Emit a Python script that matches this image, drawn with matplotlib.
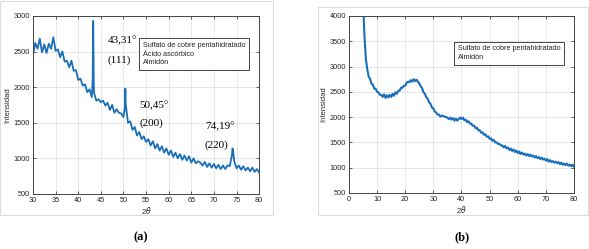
import numpy as np
import matplotlib
matplotlib.use("Agg")
from matplotlib import pyplot as plt
from matplotlib.patches import Rectangle

# Panel (a): Sulfato de cobre + acido ascorbico + almidon, 2theta 30..80 every 0.5 deg
xa_start, xa_stop, xa_step = 30.0, 80.0, 0.5
ya = [2450, 2620, 2540, 2680, 2490, 2600, 2480, 2610, 2540, 2700,
      2510, 2530, 2420, 2500, 2360, 2370, 2280, 2370, 2230, 2240,
      2100, 2120, 2020, 2040, 1930, 1970, 1860, 1920, 1810, 1830,
      1790, 1810, 1740, 1780, 1680, 1750, 1640, 1690, 1640, 1630,
      1580, 1760, 1500, 1520, 1400, 1440, 1320, 1370, 1270, 1310,
      1230, 1270, 1180, 1240, 1140, 1200, 1110, 1170, 1080, 1140,
      1050, 1110, 1020, 1080, 1000, 1060, 980, 1040, 970, 1030,
      940, 1000, 930, 960, 940, 900, 950, 880, 930, 870,
      920, 860, 910, 850, 900, 850, 900, 890, 1050, 960,
      860, 900, 840, 890, 830, 870, 820, 870, 810, 850, 800]
# sharp reflections
peak_xa = [43.2, 43.31, 43.45, 50.3, 50.42, 74.1, 74.2]
peak_ya = [2100, 2930, 2000, 1700, 1980, 1140, 1120]

# Panel (b): Sulfato de cobre + almidon, 2theta 5..80 every 0.5 deg
xb_start, xb_stop, xb_step = 5.0, 80.0, 0.5
yb = [4300, 3600, 3150, 2950, 2800, 2760, 2660, 2640, 2560, 2560,
      2500, 2490, 2440, 2440, 2400, 2450, 2380, 2430, 2390, 2440,
      2400, 2460, 2420, 2490, 2460, 2520, 2520, 2580, 2580, 2620,
      2620, 2680, 2700, 2690, 2730, 2700, 2750, 2710, 2740, 2700,
      2670, 2610, 2570, 2490, 2460, 2390, 2360, 2290, 2260, 2190,
      2170, 2110, 2090, 2050, 2050, 2010, 2030, 2020, 2010, 2000,
      1990, 1960, 1990, 1950, 1980, 1930, 1970, 1930, 1960, 1990,
      1960, 1990, 1940, 1950, 1900, 1920, 1870, 1870, 1830, 1830,
      1780, 1790, 1740, 1740, 1690, 1700, 1650, 1660, 1610, 1620,
      1570, 1580, 1530, 1550, 1500, 1500, 1470, 1470, 1440, 1440,
      1400, 1430, 1380, 1400, 1350, 1380, 1330, 1360, 1310, 1340,
      1290, 1320, 1270, 1300, 1260, 1280, 1240, 1270, 1230, 1260,
      1220, 1240, 1200, 1230, 1190, 1210, 1170, 1200, 1160, 1180,
      1140, 1170, 1120, 1150, 1110, 1130, 1100, 1120, 1090, 1110,
      1070, 1100, 1060, 1080, 1050, 1080, 1040, 1060, 1030, 1060, 1020]

legend_a = "Sulfato de cobre pentahidratado\nÁcido ascórbico\nAlmidón"
legend_b = "Sulfato de cobre pentahidratado\nAlmidón"
peak_labels = [("43,31°", "(111)", 46.5, 2650, 2380),
               ("50,45°", "(200)", 53.6, 1735, 1490),
               ("74,19°", "(220)", 68.0, 1445, 1190)]

line_col = "#1a6fba"
txt_col = "#262626"

def merge(x0, x1, step, y, px, py):
    x = np.arange(x0, x1 + step / 2, step)
    xs = np.concatenate([x, px])
    ys = np.concatenate([np.array(y, float), np.array(py, float)])
    order = np.argsort(xs, kind="stable")
    return xs[order], ys[order]

def style_axes(ax, xlim, xticks, ylim, yticks):
    ax.set_xlim(xlim)
    ax.set_ylim(ylim)
    ax.set_xticks(xticks)
    ax.set_yticks(yticks)
    ax.grid(True, color="#e3e3e3", linewidth=0.6)
    ax.set_axisbelow(True)
    for s in ax.spines.values():
        s.set_color("#444444")
        s.set_linewidth(0.7)
    ax.tick_params(direction="in", length=2, width=0.5, colors=txt_col,
                   labelsize=5.3, top=True, right=True, pad=2)
    ax.set_xlabel("2$\\theta$", fontsize=5.5, color=txt_col, labelpad=1)
    ax.set_ylabel("Intensidad", fontsize=5.5, color=txt_col, labelpad=2)

plt.rcParams["font.family"] = ["Liberation Sans", "DejaVu Sans"]
fig = plt.figure(figsize=(5.89, 2.49), dpi=100)

# panel frames (behind the axes)
fig.patches.append(Rectangle((0.0, 0.135), 0.4635, 0.86, transform=fig.transFigure,
                             facecolor="white", edgecolor="#dcdcdc", linewidth=0.8, zorder=-10))
fig.patches.append(Rectangle((0.54, 0.135), 0.459, 0.836, transform=fig.transFigure,
                             facecolor="white", edgecolor="#dcdcdc", linewidth=0.8, zorder=-10))

# (a)
ax1 = fig.add_axes([0.056, 0.221, 0.384, 0.715])
xa, ya2 = merge(xa_start, xa_stop, xa_step, ya, peak_xa, peak_ya)
ax1.plot(xa, ya2, color=line_col, linewidth=1.3)
style_axes(ax1, (30, 80), np.arange(30, 81, 5), (500, 3000), np.arange(500, 3001, 500))
for top, bottom, x, y1, y2 in peak_labels:
    ax1.text(x, y1, top, family="Liberation Serif", fontsize=8, color="black", va="center")
    ax1.text(x, y2, bottom, family="Liberation Serif", fontsize=8, color="black", va="center")
ax1.text(0.485, 0.855, legend_a, transform=ax1.transAxes, fontsize=5.2, color=txt_col,
         va="top", ha="left", linespacing=1.35,
         bbox=dict(boxstyle="square,pad=0.5", facecolor="white", edgecolor="#444444", linewidth=0.7))

# (b)
ax2 = fig.add_axes([0.5925, 0.225, 0.382, 0.711])
xb, yb2 = merge(xb_start, xb_stop, xb_step, yb, [], [])
ax2.plot(xb, yb2, color=line_col, linewidth=1.5)
style_axes(ax2, (0, 80), np.arange(0, 81, 10), (500, 4000), np.arange(500, 4001, 500))
ax2.text(0.485, 0.835, legend_b, transform=ax2.transAxes, fontsize=5.2, color=txt_col,
         va="top", ha="left", linespacing=1.35,
         bbox=dict(boxstyle="square,pad=0.5", facecolor="white", edgecolor="#444444", linewidth=0.7))

fig.text(0.239, 0.048, "(a)", family="Liberation Serif", fontweight="bold", fontsize=9, ha="center", va="center")
fig.text(0.784, 0.048, "(b)", family="Liberation Serif", fontweight="bold", fontsize=9, ha="center", va="center")

fig.savefig("out.png", dpi=100)
